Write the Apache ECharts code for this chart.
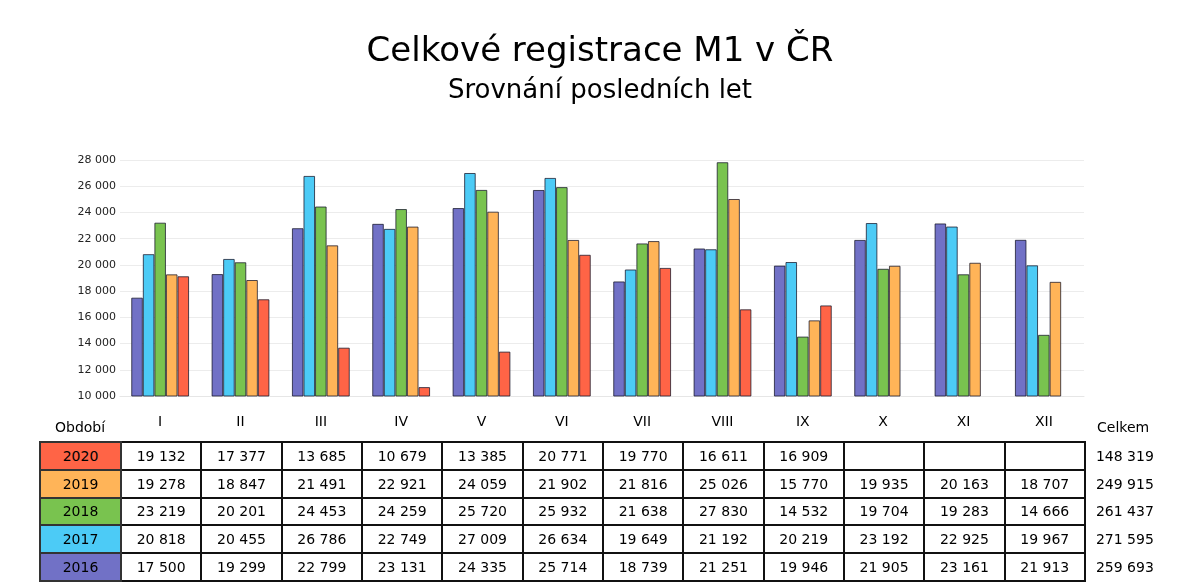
<!DOCTYPE html>
<html>
<head>
<meta charset="utf-8">
<script src="https://cdn.jsdelivr.net/npm/echarts@6/dist/echarts.min.js"></script>
<style>
  html, body { margin: 0; padding: 0; background: #fff; }
  body { width: 1200px; height: 583px; position: relative; overflow: hidden; font-family: "DejaVu Sans", Verdana, sans-serif; }
  #chart { position: absolute; left: 0; top: 0; width: 1200px; height: 583px; }
  #tbl { position: absolute; left: 39px; top: 441px; border-collapse: collapse; table-layout: fixed; width: 1126px; font-size: 14px; color: #000; }
  #tbl td { height: 27.8px; padding: 0; text-align: center; border: 2px solid #111; box-sizing: border-box; overflow: hidden; white-space: nowrap; }
  #tbl td.yr { border-color: #333; }
  #tbl td.tot { border: none; text-align: left; padding-left: 10px; }
  .lbl { position: absolute; font-size: 14px; color: #000; }
</style>
</head>
<body>
<div id="chart"></div>
<div class="lbl" style="left:55px; top:419px;">Období</div>
<div class="lbl" style="left:1097px; top:419px;">Celkem</div>
<table id="tbl"></table>
<script>
(function() {
  // data
  var months = ["I", "II", "III", "IV", "V", "VI", "VII", "VIII", "IX", "X", "XI", "XII"];
  var years = ["2016", "2017", "2018", "2019", "2020"];
  var colors = ["#7171c6", "#4ccbf6", "#79c34f", "#ffb458", "#ff6446"];

  var v2016 = [17500, 19299, 22799, 23131, 24335, 25714, 18739, 21251, 19946, 21905, 23161, 21913];
  var v2017 = [20818, 20455, 26786, 22749, 27009, 26634, 19649, 21192, 20219, 23192, 22925, 19967];
  var v2018 = [23219, 20201, 24453, 24259, 25720, 25932, 21638, 27830, 14532, 19704, 19283, 14666];
  var v2019 = [19278, 18847, 21491, 22921, 24059, 21902, 21816, 25026, 15770, 19935, 20163, 18707];
  var v2020 = [19132, 17377, 13685, 10679, 13385, 20771, 19770, 16611, 16909, null, null, null];
  var totals = [259693, 271595, 261437, 249915, 148319];

  var values = [v2016, v2017, v2018, v2019, v2020];

  function fmt(n) {
    if (n == null) return "";
    return String(n).replace(/\B(?=(\d{3})+(?!\d))/g, " ");
  }

  var myChart = echarts.init(document.getElementById("chart"));

  var series = years.map(function(y, i) {
    return {
      name: y,
      type: "bar",
      barGap: "0%",
      barCategoryGap: "28%",
      itemStyle: {
        color: colors[i],
        borderColor: "rgba(20,20,40,0.75)",
        borderWidth: 1
      },
      data: values[i]
    };
  });

  var option = {
    animation: false,
    textStyle: { fontFamily: "DejaVu Sans" },
    title: {
      text: "Celkové registrace M1 v ČR",
      subtext: "Srovnání posledních let",
      left: "center",
      top: 30,
      itemGap: 9,
      textStyle: { fontSize: 34, fontWeight: "normal", color: "#000" },
      subtextStyle: { fontSize: 26, color: "#000" }
    },
    grid: { left: 120, right: 116, top: 160, bottom: 187 },
    xAxis: {
      type: "category",
      data: months,
      axisLine: { show: true, lineStyle: { color: "#e6e6e6" } },
      axisTick: { show: false },
      axisLabel: { color: "#000", fontSize: 14, margin: 19 }
    },
    yAxis: {
      type: "value",
      min: 10000,
      max: 28000,
      interval: 2000,
      axisLine: { show: false },
      axisTick: { show: false },
      splitLine: { lineStyle: { color: "#ececec" } },
      axisLabel: {
        color: "#222",
        fontSize: 11,
        margin: 4,
        formatter: function(v) { return fmt(v); }
      }
    },
    series: series
  };
  myChart.setOption(option);

  // table below the chart, newest year on top
  var tbl = document.getElementById("tbl");
  var cg = document.createElement("colgroup");
  var widths = [81];
  for (var k = 0; k < months.length; k++) widths.push(80.33);
  widths.push(81);
  widths.forEach(function(w) {
    var col = document.createElement("col");
    col.style.width = w + "px";
    cg.appendChild(col);
  });
  tbl.appendChild(cg);

  for (var r = years.length - 1; r >= 0; r--) {
    var tr = document.createElement("tr");
    var th = document.createElement("td");
    th.className = "yr";
    th.style.background = colors[r];
    th.textContent = years[r];
    tr.appendChild(th);
    for (var c = 0; c < months.length; c++) {
      var td = document.createElement("td");
      td.textContent = fmt(values[r][c]);
      tr.appendChild(td);
    }
    var tt = document.createElement("td");
    tt.className = "tot";
    tt.textContent = fmt(totals[r]);
    tr.appendChild(tt);
    tbl.appendChild(tr);
  }

  window.addEventListener("resize", function() {
    myChart.resize();
  });
})();
</script>
</body>
</html>
